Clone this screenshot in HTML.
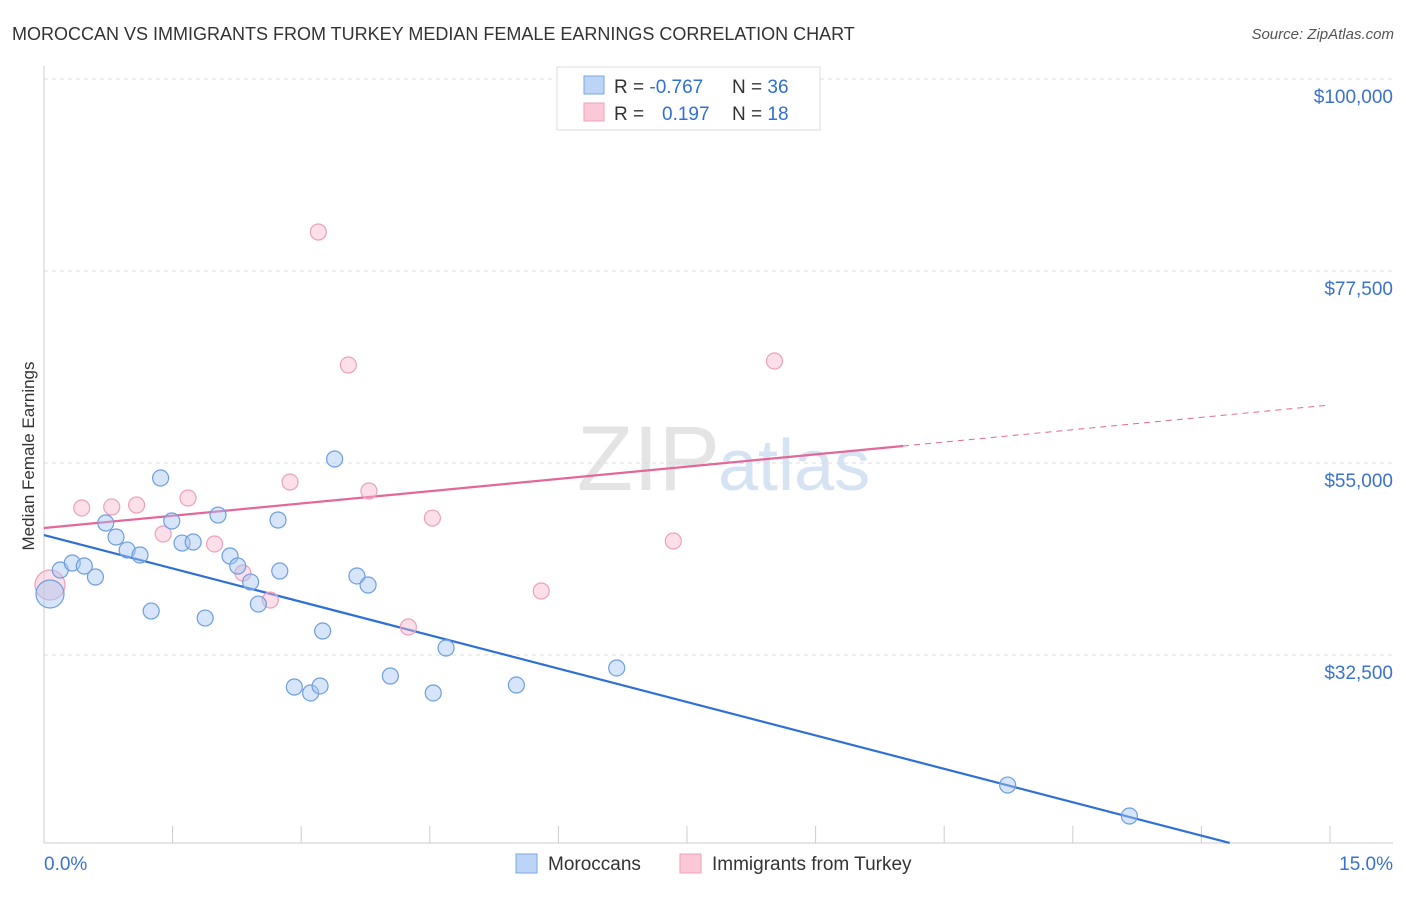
<!DOCTYPE html>
<html><head><meta charset="utf-8"><style>
body{margin:0;background:#fff;font-family:"Liberation Sans",sans-serif;}
svg text{font-family:"Liberation Sans",sans-serif;}
</style></head><body>
<svg id="chart" width="1406" height="892">
<text x="12" y="40" font-size="18" fill="#333">MOROCCAN VS IMMIGRANTS FROM TURKEY MEDIAN FEMALE EARNINGS CORRELATION CHART</text>
<text x="1394" y="39" font-size="15" fill="#555" font-style="italic" text-anchor="end">Source: ZipAtlas.com</text>
<text x="720" y="490" font-size="92" fill="#e4e4e4" text-anchor="end" font-family="Liberation Serif">ZIP</text>
<text x="718" y="490" font-size="72" fill="#d6e3f3">atlas</text>
<g id="grid"></g><g id="axes"></g><g id="lines"></g><g id="pts"></g>
<text x="34" y="456" font-size="17" fill="#333" text-anchor="middle" transform="rotate(-90 34 456)">Median Female Earnings</text>
<g>
<rect x="557" y="67" width="263" height="63" fill="#fff" stroke="#ddd"/>
<rect x="584" y="76" width="20" height="18" fill="#bcd4f5" stroke="#7aa7e0"/>
<rect x="584" y="103" width="20" height="18" fill="#fbc8d8" stroke="#f0a0b8"/>
<text x="614" y="93" font-size="19" fill="#333">R = <tspan fill="#2f6fd6">-0.767</tspan><tspan x="732">N = </tspan><tspan fill="#2f6fd6">36</tspan></text>
<text x="614" y="120" font-size="19" fill="#333">R = <tspan x="662" fill="#2f6fd6">0.197</tspan><tspan x="732">N = </tspan><tspan fill="#2f6fd6">18</tspan></text>
</g>
<g>
<rect x="516" y="854" width="21" height="19" fill="#bcd4f5" stroke="#7aa7e0"/>
<text x="548" y="870" font-size="19" fill="#333">Moroccans</text>
<rect x="680" y="854" width="21" height="19" fill="#fbc8d8" stroke="#f0a0b8"/>
<text x="712" y="870" font-size="19" fill="#333">Immigrants from Turkey</text>
</g>
</svg>
<script>
const yTicks=[32500,55000,77500,100000];
const yTickLabels=["$32,500","$55,000","$77,500","$100,000"];
const xTickLabels=["0.0%","15.0%"];
const blueX=[0.07,0.19,0.33,0.47,0.60,0.72,0.84,0.97,1.12,1.25,1.36,1.49,1.61,1.74,1.88,2.03,2.17,2.26,2.41,2.50,2.73,2.75,2.92,3.11,3.22,3.25,3.39,3.65,3.78,4.04,4.54,4.69,5.51,6.68,11.24,12.66];
const blueY=[39650,42460,43280,42930,41640,47970,46330,44800,44220,37650,53240,48200,45620,45740,36830,48900,44100,42930,41050,38470,48320,42340,28750,28050,28870,35310,55470,41760,40700,30040,28050,33320,28980,30980,17260,13630];
const pinkX=[0.07,0.44,0.79,1.08,1.39,1.68,1.99,2.32,2.64,2.87,3.20,3.55,3.79,4.25,4.53,5.80,7.34,8.52];
const pinkY=[40700,49730,49840,50080,46680,50900,45510,42110,38940,52770,82070,66480,51720,35780,48550,40000,45860,66950];
const blueTrendX=[0,13.83];const blueTrendY=[46560,10470];
const pinkTrendX=[0,10.02];const pinkTrendY=[47380,56990];
const pinkDashX=[10.02,15];const pinkDashY=[56990,61800];
const NS="http://www.w3.org/2000/svg";
const sx=v=>44+v/15*1286;
const sy=v=>79+(100000-v)/22500*192;
function mk(tag,attrs,parent){const e=document.createElementNS(NS,tag);for(const k in attrs)e.setAttribute(k,attrs[k]);document.getElementById(parent).appendChild(e);return e;}
yTicks.forEach((t,i)=>{
 const l=mk('line',{x1:44,x2:1393,y1:sy(t),y2:sy(t),stroke:'#ddd','stroke-dasharray':'4,4'},'grid');
 
 
 const tx=mk('text',{x:1393,y:sy(t)+24,'font-size':19,fill:'#3a72d0','text-anchor':'end'},'grid');
 tx.textContent=yTickLabels[i];
 
 
});
const ax=mk('line',{x1:44,x2:44,y1:66,y2:843,stroke:'#ccc'},'axes');


const bx=mk('line',{x1:44,x2:1393,y1:843,y2:843,stroke:'#ccc'},'axes');


for(let i=0;i<=10;i++){const t=mk('line',{x1:sx(i*1.5),x2:sx(i*1.5),y1:826,y2:843,stroke:'#ccc'},'axes');
 
 }
[[0,'start',44],[1,'end',1393]].forEach(([i,a,x])=>{const t=mk('text',{x:x,y:870,'font-size':19,fill:'#3a72d0','text-anchor':a},'axes');t.textContent=xTickLabels[i];
 
 });
const bl=mk('line',{x1:sx(blueTrendX[0]),y1:sy(blueTrendY[0]),x2:sx(blueTrendX[1]),y2:sy(blueTrendY[1]),stroke:'#2f6fd6','stroke-width':2.2},'lines');


const pl=mk('line',{x1:sx(pinkTrendX[0]),y1:sy(pinkTrendY[0]),x2:sx(pinkTrendX[1]),y2:sy(pinkTrendY[1]),stroke:'#e4679a','stroke-width':2.2},'lines');


const pd=mk('line',{x1:sx(pinkDashX[0]),y1:sy(pinkDashY[0]),x2:sx(pinkDashX[1]),y2:sy(pinkDashY[1]),stroke:'#e4679a','stroke-width':1,'stroke-dasharray':'6,5'},'lines');


pinkX.forEach((x,i)=>{const c=mk('circle',{cx:sx(x),cy:sy(pinkY[i]),r:i==0?15:8,fill:'rgba(248,185,207,0.45)',stroke:'#eea0ba','stroke-width':1.2},'pts');
 
 });
blueX.forEach((x,i)=>{const c=mk('circle',{cx:sx(x),cy:sy(blueY[i]),r:i==0?14:8,fill:'rgba(165,198,242,0.45)',stroke:'#6f9edd','stroke-width':1.2},'pts');
 
 });
</script>
</body></html>
